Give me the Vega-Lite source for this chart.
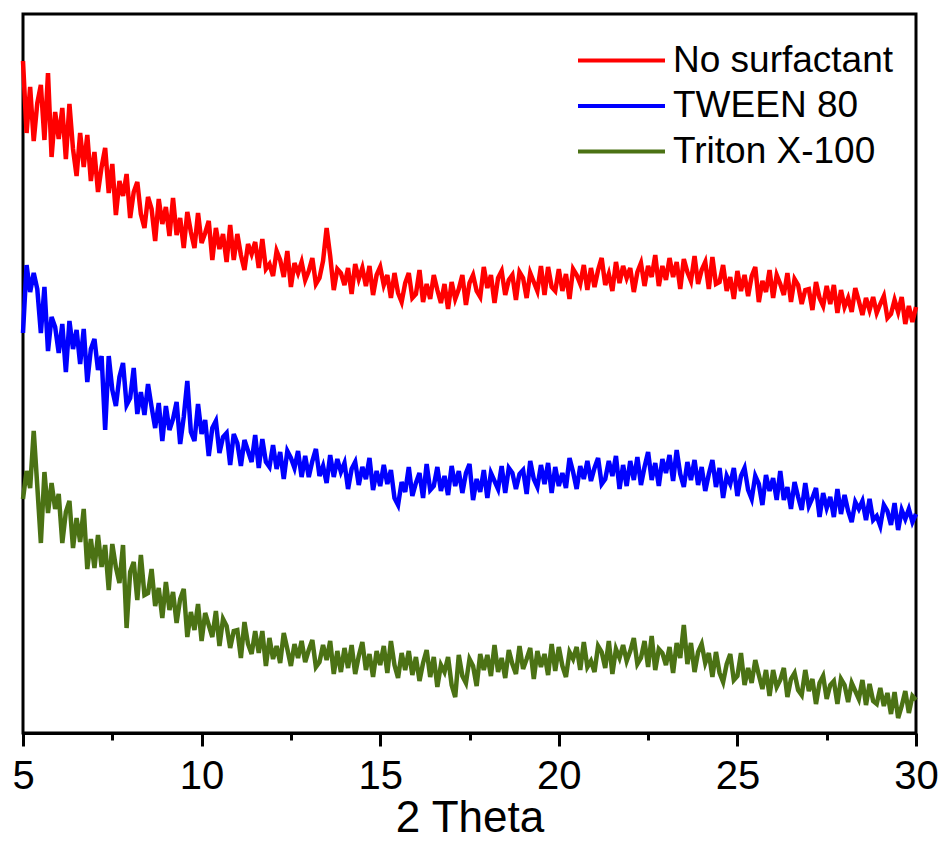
{
"$schema": "https://vega.github.io/schema/vega-lite/v6.json",
"width": 893, "height": 719,
"autosize": {"type": "none"},
"padding": {"left": 23, "top": 14, "right": 28, "bottom": 117},
"background": "white",
"config": {"view": {"stroke": "black", "strokeWidth": 3}, "font": "Liberation Sans"},
"data": {"values": [
{"t":5.0,"r":672,"b":400,"g":234},{"t":5.1,"r":600,"b":468,"g":262},{"t":5.2,"r":646,"b":441,"g":245},{"t":5.3,"r":592,"b":460,"g":302},{"t":5.4,"r":630,"b":444,"g":247},{"t":5.5,"r":648,"b":400,"g":190},{"t":5.6,"r":593,"b":446,"g":261},{"t":5.7,"r":660,"b":382,"g":220},{"t":5.8,"r":576,"b":416,"g":250},{"t":5.9,"r":621,"b":406,"g":224},
{"t":6.0,"r":594,"b":380,"g":239},{"t":6.1,"r":625,"b":409,"g":190},{"t":6.2,"r":574,"b":361,"g":221},{"t":6.3,"r":629,"b":412,"g":232},{"t":6.4,"r":584,"b":384,"g":185},{"t":6.5,"r":557,"b":403,"g":215},{"t":6.6,"r":600,"b":369,"g":191},{"t":6.7,"r":566,"b":404,"g":224},{"t":6.8,"r":598,"b":351,"g":164},{"t":6.9,"r":552,"b":384,"g":194},
{"t":7.0,"r":581,"b":394,"g":165},{"t":7.1,"r":541,"b":363,"g":198},{"t":7.2,"r":566,"b":377,"g":166},{"t":7.3,"r":585,"b":303,"g":188},{"t":7.4,"r":540,"b":377,"g":143},{"t":7.5,"r":569,"b":343,"g":189},{"t":7.6,"r":518,"b":327,"g":166},{"t":7.7,"r":552,"b":356,"g":150},{"t":7.8,"r":537,"b":370,"g":188},{"t":7.9,"r":559,"b":328,"g":105},
{"t":8.0,"r":515,"b":335,"g":161},{"t":8.1,"r":541,"b":365,"g":171},{"t":8.2,"r":551,"b":319,"g":133},{"t":8.3,"r":519,"b":341,"g":178},{"t":8.4,"r":505,"b":318,"g":138},{"t":8.5,"r":536,"b":349,"g":140},{"t":8.6,"r":524,"b":326,"g":164},{"t":8.7,"r":492,"b":305,"g":127},{"t":8.8,"r":534,"b":330,"g":145},{"t":8.9,"r":509,"b":292,"g":115},
{"t":9.0,"r":526,"b":327,"g":151},{"t":9.1,"r":497,"b":303,"g":123},{"t":9.2,"r":535,"b":314,"g":141},{"t":9.3,"r":498,"b":331,"g":110},{"t":9.4,"r":515,"b":289,"g":134},{"t":9.5,"r":485,"b":316,"g":144},{"t":9.6,"r":521,"b":352,"g":96},{"t":9.7,"r":501,"b":301,"g":121},{"t":9.8,"r":485,"b":292,"g":103},{"t":9.9,"r":520,"b":329,"g":129},
{"t":10.0,"r":490,"b":299,"g":92},{"t":10.1,"r":500,"b":313,"g":120},{"t":10.2,"r":512,"b":277,"g":108},{"t":10.3,"r":473,"b":305,"g":96},{"t":10.4,"r":505,"b":312,"g":122},{"t":10.5,"r":484,"b":280,"g":87},{"t":10.6,"r":499,"b":296,"g":114},{"t":10.7,"r":471,"b":300,"g":107},{"t":10.8,"r":508,"b":268,"g":85},{"t":10.9,"r":473,"b":299,"g":102},
{"t":11.0,"r":499,"b":290,"g":103},{"t":11.1,"r":478,"b":267,"g":75},{"t":11.2,"r":463,"b":293,"g":111},{"t":11.3,"r":489,"b":282,"g":89},{"t":11.4,"r":479,"b":271,"g":79},{"t":11.5,"r":491,"b":298,"g":102},{"t":11.6,"r":465,"b":265,"g":80},{"t":11.7,"r":494,"b":294,"g":102},{"t":11.8,"r":464,"b":271,"g":67},{"t":11.9,"r":469,"b":266,"g":95},
{"t":12.0,"r":457,"b":288,"g":74},{"t":12.1,"r":482,"b":264,"g":87},{"t":12.2,"r":473,"b":281,"g":70},{"t":12.3,"r":456,"b":254,"g":100},{"t":12.4,"r":482,"b":282,"g":84},{"t":12.5,"r":446,"b":275,"g":67},{"t":12.6,"r":470,"b":265,"g":89},{"t":12.7,"r":460,"b":282,"g":75},{"t":12.8,"r":471,"b":256,"g":92},{"t":12.9,"r":453,"b":277,"g":71},
{"t":13.0,"r":462,"b":256,"g":83},{"t":13.1,"r":475,"b":272,"g":93},{"t":13.2,"r":449,"b":284,"g":66},{"t":13.3,"r":455,"b":257,"g":71},{"t":13.4,"r":472,"b":267,"g":88},{"t":13.5,"r":505,"b":250,"g":73},{"t":13.6,"r":477,"b":278,"g":92},{"t":13.7,"r":443,"b":256,"g":59},{"t":13.8,"r":464,"b":274,"g":82},{"t":13.9,"r":460,"b":261,"g":61},
{"t":14.0,"r":448,"b":270,"g":85},{"t":14.1,"r":465,"b":244,"g":65},{"t":14.2,"r":439,"b":264,"g":88},{"t":14.3,"r":469,"b":271,"g":59},{"t":14.4,"r":454,"b":248,"g":77},{"t":14.5,"r":465,"b":266,"g":91},{"t":14.6,"r":447,"b":254,"g":63},{"t":14.7,"r":467,"b":275,"g":79},{"t":14.8,"r":438,"b":243,"g":56},{"t":14.9,"r":458,"b":262,"g":82},
{"t":15.0,"r":466,"b":247,"g":68},{"t":15.1,"r":448,"b":268,"g":87},{"t":15.2,"r":458,"b":249,"g":60},{"t":15.3,"r":435,"b":263,"g":92},{"t":15.4,"r":460,"b":235,"g":68},{"t":15.5,"r":440,"b":228,"g":55},{"t":15.6,"r":431,"b":251,"g":80},{"t":15.7,"r":450,"b":241,"g":63},{"t":15.8,"r":460,"b":266,"g":82},{"t":15.9,"r":435,"b":237,"g":58},
{"t":16.0,"r":439,"b":250,"g":76},{"t":16.1,"r":463,"b":260,"g":52},{"t":16.2,"r":431,"b":235,"g":70},{"t":16.3,"r":449,"b":269,"g":83},{"t":16.4,"r":434,"b":243,"g":56},{"t":16.5,"r":458,"b":247,"g":76},{"t":16.6,"r":443,"b":266,"g":46},{"t":16.7,"r":430,"b":242,"g":68},{"t":16.8,"r":449,"b":257,"g":61},{"t":16.9,"r":424,"b":238,"g":76},
{"t":17.0,"r":451,"b":267,"g":48},{"t":17.1,"r":434,"b":247,"g":36},{"t":17.2,"r":444,"b":262,"g":78},{"t":17.3,"r":458,"b":240,"g":57},{"t":17.4,"r":428,"b":260,"g":50},{"t":17.5,"r":450,"b":269,"g":74},{"t":17.6,"r":458,"b":233,"g":67},{"t":17.7,"r":442,"b":254,"g":47},{"t":17.8,"r":436,"b":241,"g":79},{"t":17.9,"r":466,"b":263,"g":63},
{"t":18.0,"r":445,"b":235,"g":78},{"t":18.1,"r":458,"b":260,"g":57},{"t":18.2,"r":430,"b":252,"g":88},{"t":18.3,"r":455,"b":244,"g":61},{"t":18.4,"r":462,"b":267,"g":75},{"t":18.5,"r":438,"b":240,"g":55},{"t":18.6,"r":453,"b":265,"g":83},{"t":18.7,"r":458,"b":260,"g":69},{"t":18.8,"r":433,"b":244,"g":59},{"t":18.9,"r":461,"b":259,"g":87},
{"t":19.0,"r":455,"b":263,"g":64},{"t":19.1,"r":435,"b":239,"g":74},{"t":19.2,"r":460,"b":272,"g":85},{"t":19.3,"r":451,"b":254,"g":54},{"t":19.4,"r":442,"b":246,"g":82},{"t":19.5,"r":467,"b":268,"g":66},{"t":19.6,"r":438,"b":249,"g":79},{"t":19.7,"r":466,"b":270,"g":58},{"t":19.8,"r":446,"b":240,"g":89},{"t":19.9,"r":442,"b":266,"g":62},
{"t":20.0,"r":464,"b":247,"g":86},{"t":20.1,"r":442,"b":260,"g":67},{"t":20.2,"r":459,"b":245,"g":56},{"t":20.3,"r":434,"b":275,"g":81},{"t":20.4,"r":464,"b":261,"g":74},{"t":20.5,"r":458,"b":244,"g":86},{"t":20.6,"r":449,"b":267,"g":63},{"t":20.7,"r":468,"b":254,"g":91},{"t":20.8,"r":443,"b":272,"g":66},{"t":20.9,"r":465,"b":252,"g":72},
{"t":21.0,"r":446,"b":265,"g":61},{"t":21.1,"r":463,"b":275,"g":87},{"t":21.2,"r":475,"b":249,"g":81},{"t":21.3,"r":448,"b":254,"g":65},{"t":21.4,"r":459,"b":272,"g":92},{"t":21.5,"r":442,"b":257,"g":59},{"t":21.6,"r":471,"b":277,"g":84},{"t":21.7,"r":450,"b":244,"g":75},{"t":21.8,"r":467,"b":268,"g":88},{"t":21.9,"r":455,"b":247,"g":72},
{"t":22.0,"r":465,"b":272,"g":82},{"t":22.1,"r":441,"b":253,"g":95},{"t":22.2,"r":461,"b":276,"g":69},{"t":22.3,"r":470,"b":248,"g":75},{"t":22.4,"r":447,"b":266,"g":92},{"t":22.5,"r":467,"b":281,"g":66},{"t":22.6,"r":456,"b":253,"g":97},{"t":22.7,"r":478,"b":270,"g":63},{"t":22.8,"r":447,"b":247,"g":84},{"t":22.9,"r":467,"b":274,"g":80},
{"t":23.0,"r":453,"b":260,"g":68},{"t":23.1,"r":475,"b":278,"g":86},{"t":23.2,"r":456,"b":252,"g":60},{"t":23.3,"r":471,"b":283,"g":90},{"t":23.4,"r":444,"b":259,"g":75},{"t":23.5,"r":474,"b":246,"g":108},{"t":23.6,"r":461,"b":271,"g":69},{"t":23.7,"r":452,"b":253,"g":90},{"t":23.8,"r":477,"b":273,"g":61},{"t":23.9,"r":449,"b":248,"g":81},
{"t":24.0,"r":463,"b":266,"g":89},{"t":24.1,"r":471,"b":242,"g":70},{"t":24.2,"r":444,"b":259,"g":80},{"t":24.3,"r":476,"b":273,"g":56},{"t":24.4,"r":449,"b":246,"g":81},{"t":24.5,"r":451,"b":265,"g":60},{"t":24.6,"r":468,"b":235,"g":51},{"t":24.7,"r":442,"b":257,"g":69},{"t":24.8,"r":456,"b":249,"g":79},{"t":24.9,"r":434,"b":265,"g":53},
{"t":25.0,"r":462,"b":237,"g":57},{"t":25.1,"r":442,"b":257,"g":80},{"t":25.2,"r":458,"b":265,"g":48},{"t":25.3,"r":437,"b":243,"g":65},{"t":25.4,"r":457,"b":234,"g":50},{"t":25.5,"r":466,"b":257,"g":73},{"t":25.6,"r":431,"b":249,"g":58},{"t":25.7,"r":452,"b":228,"g":44},{"t":25.8,"r":441,"b":258,"g":63},{"t":25.9,"r":463,"b":242,"g":37},
{"t":26.0,"r":435,"b":255,"g":63},{"t":26.1,"r":458,"b":233,"g":46},{"t":26.2,"r":449,"b":262,"g":53},{"t":26.3,"r":438,"b":233,"g":65},{"t":26.4,"r":460,"b":246,"g":36},{"t":26.5,"r":431,"b":224,"g":54},{"t":26.6,"r":454,"b":251,"g":60},{"t":26.7,"r":448,"b":236,"g":43},{"t":26.8,"r":429,"b":223,"g":38},{"t":26.9,"r":443,"b":250,"g":63},
{"t":27.0,"r":444,"b":227,"g":42},{"t":27.1,"r":423,"b":235,"g":54},{"t":27.2,"r":451,"b":245,"g":29},{"t":27.3,"r":435,"b":216,"g":50},{"t":27.4,"r":427,"b":240,"g":57},{"t":27.5,"r":447,"b":225,"g":34},{"t":27.6,"r":429,"b":236,"g":48},{"t":27.7,"r":448,"b":216,"g":52},{"t":27.8,"r":420,"b":244,"g":29},{"t":27.9,"r":443,"b":219,"g":54},
{"t":28.0,"r":426,"b":238,"g":48},{"t":28.1,"r":435,"b":222,"g":31},{"t":28.2,"r":421,"b":211,"g":50},{"t":28.3,"r":445,"b":231,"g":42},{"t":28.4,"r":432,"b":224,"g":34},{"t":28.5,"r":418,"b":232,"g":53},{"t":28.6,"r":435,"b":213,"g":28},{"t":28.7,"r":423,"b":234,"g":49},{"t":28.8,"r":436,"b":213,"g":32},{"t":28.9,"r":420,"b":217,"g":29},
{"t":29.0,"r":429,"b":207,"g":45},{"t":29.1,"r":437,"b":228,"g":27},{"t":29.2,"r":415,"b":222,"g":40},{"t":29.3,"r":419,"b":208,"g":19},{"t":29.4,"r":433,"b":230,"g":41},{"t":29.5,"r":421,"b":203,"g":15},{"t":29.6,"r":436,"b":223,"g":27},{"t":29.7,"r":409,"b":214,"g":42},{"t":29.8,"r":427,"b":224,"g":20},{"t":29.9,"r":411,"b":211,"g":37},
{"t":30.0,"r":426,"b":219,"g":33}
]},
"encoding": {
  "x": {"field": "t", "type": "quantitative",
    "scale": {"domain": [5, 30], "nice": false, "zero": false},
    "axis": {"values": [5, 7.5, 10, 12.5, 15, 17.5, 20, 22.5, 25, 27.5, 30],
      "labelExpr": "datum.value % 5 === 0 ? datum.label : ''",
      "tickSize": {"condition": {"test": "datum.value % 5 !== 0", "value": 7}, "value": 13},
      "tickWidth": 3, "tickColor": "black", "domainColor": "black", "domainWidth": 3,
      "labelFontSize": 40, "labelColor": "black", "labelPadding": 10, "labelFlush": false, "labelOverlap": false,
      "grid": false, "title": "2 Theta", "titleFontSize": 44, "titleFontWeight": "normal", "titleColor": "black", "titlePadding": 0}}
},
"layer": [
  {"mark": {"type": "line", "strokeWidth": 4.5},
   "encoding": {
     "y": {"field": "r", "type": "quantitative", "scale": {"domain": [0, 719], "nice": false, "zero": false}, "axis": null},
     "color": {"datum": "No surfactant", "type": "nominal",
       "scale": {"domain": ["No surfactant", "TWEEN 80", "Triton X-100"], "range": ["#ff0000", "#0000ff", "#4b7214"]},
       "legend": {"orient": "none", "legendX": 580, "legendY": 28, "title": null, "symbolType": "M-3,0H3", "symbolSize": 841, "symbolStrokeWidth": 4, "labelFontSize": 37, "labelColor": "black", "labelOffset": 33, "rowPadding": 7.5, "labelLimit": 400}}}},
  {"mark": {"type": "line", "strokeWidth": 4.5},
   "encoding": {
     "y": {"field": "b", "type": "quantitative", "scale": {"domain": [0, 719], "nice": false, "zero": false}, "axis": null},
     "color": {"datum": "TWEEN 80", "type": "nominal"}}},
  {"mark": {"type": "line", "strokeWidth": 4.5},
   "encoding": {
     "y": {"field": "g", "type": "quantitative", "scale": {"domain": [0, 719], "nice": false, "zero": false}, "axis": null},
     "color": {"datum": "Triton X-100", "type": "nominal"}}}
]
}
